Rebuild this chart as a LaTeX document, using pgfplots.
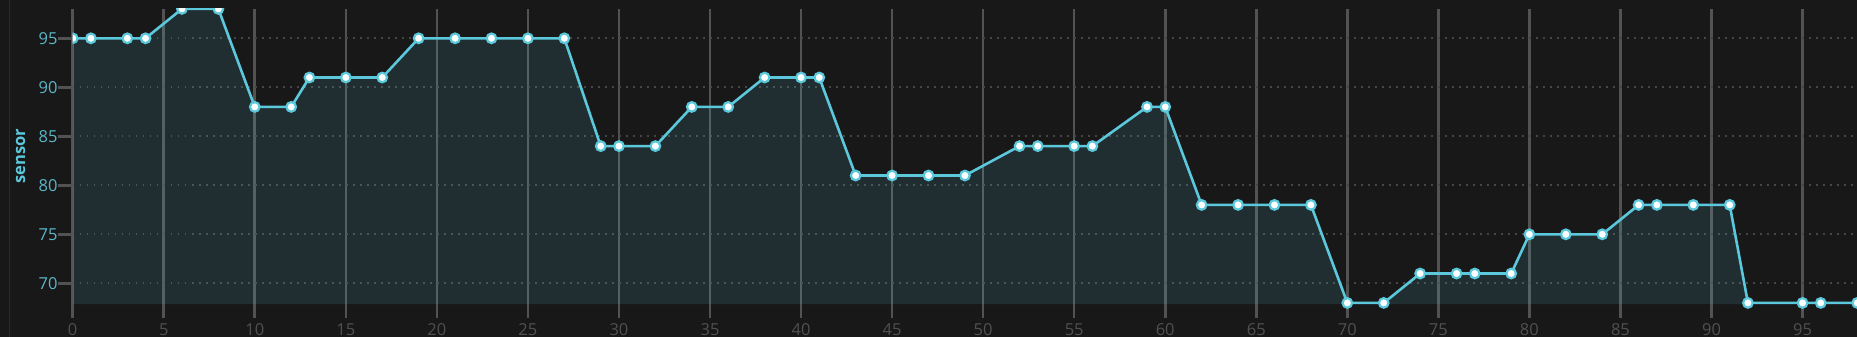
\documentclass[border=0pt]{standalone}
\usepackage{pgfplots}
\pgfplotsset{compat=1.18}
\usepackage{fontspec}
\setmainfont{Open Sans}
\definecolor{bg}{HTML}{181818}
\definecolor{edgec}{HTML}{2A2A2A}
\definecolor{linec}{HTML}{5BC8DC}
\definecolor{gridc}{HTML}{525252}
\definecolor{dotc}{HTML}{464646}
\definecolor{ytl}{HTML}{5AB6C8}
\definecolor{xtl}{HTML}{505050}
\begin{document}
\begin{tikzpicture}
\fill[bg] (-72.7bp,-28.2bp) rectangle (1784.3bp,308.8bp);
\draw[edgec, line width=1bp] (-63.2bp,-28.2bp) -- (-63.2bp,308.8bp);
\begin{axis}[
  at={(0,0)}, anchor=south west,
  scale only axis, width=1784.6bp, height=299.9bp,
  xmin=0, xmax=98, ymin=67.4, ymax=98,
  xtick={0,5,...,95}, ytick={70,75,...,95},
  axis line style={draw=none},
  tick align=outside, xtick pos=bottom, ytick pos=left,
  major tick length=15bp,
  xtick style={/pgfplots/major tick length=9.4bp, line width=2.6bp, draw=gridc},
  ytick style={line width=2.6bp, draw=gridc},
  xmajorgrids, ymajorgrids,
  x grid style={line width=2.6bp, draw=gridc},
  y grid style={line width=1.8bp, draw=dotc, dash pattern=on 1.8bp off 5.2bp},
  clip marker paths=true,
  /pgf/number format/assume math mode=true,
  tick label style={font=\fontsize{16.5bp}{18bp}\selectfont},
  xticklabel style={text=xtl, inner sep=0pt, anchor=north},
  yticklabel style={text=ytl, inner sep=0pt, anchor=east},
  ylabel={sensor},
  ylabel style={at={(axis description cs:0,0.5)}, anchor=center, xshift=2.9bp, yshift=52.2bp,
    font=\fontsize{16.5bp}{18bp}\bfseries\selectfont, text=linec},
]
\addplot[draw=none, fill=linec, fill opacity=0.13] coordinates {
(0,67.88) (0,95) (1,95) (3,95) (4,95) (6,98) (8,98) (10,88) (12,88) (13,91) (15,91) (17,91)
(19,95) (21,95) (23,95) (25,95) (27,95) (29,84) (30,84) (32,84) (34,88) (36,88) (38,91)
(40,91) (41,91) (43,81) (45,81) (47,81) (49,81) (52,84) (53,84) (55,84) (56,84) (59,88)
(60,88) (62,78) (64,78) (66,78) (68,78) (70,68) (72,68) (74,71) (76,71) (77,71) (79,71)
(80,75) (82,75) (84,75) (86,78) (87,78) (89,78) (91,78) (92,68) (95,68) (96,68) (98,68) (98,67.88)
};
\addplot[linec, line width=2.6bp, mark=*, mark size=4.8bp,
  mark options={fill=white, draw=linec, line width=2.2bp}] coordinates {
(0,95) (1,95) (3,95) (4,95) (6,98) (8,98) (10,88) (12,88) (13,91) (15,91) (17,91)
(19,95) (21,95) (23,95) (25,95) (27,95) (29,84) (30,84) (32,84) (34,88) (36,88) (38,91)
(40,91) (41,91) (43,81) (45,81) (47,81) (49,81) (52,84) (53,84) (55,84) (56,84) (59,88)
(60,88) (62,78) (64,78) (66,78) (68,78) (70,68) (72,68) (74,71) (76,71) (77,71) (79,71)
(80,75) (82,75) (84,75) (86,78) (87,78) (89,78) (91,78) (92,68) (95,68) (96,68) (98,68)
};
\end{axis}
\pgfresetboundingbox
\path[use as bounding box] (-72.7bp,-28.2bp) rectangle (1784.3bp,308.8bp);
\end{tikzpicture}
\end{document}
